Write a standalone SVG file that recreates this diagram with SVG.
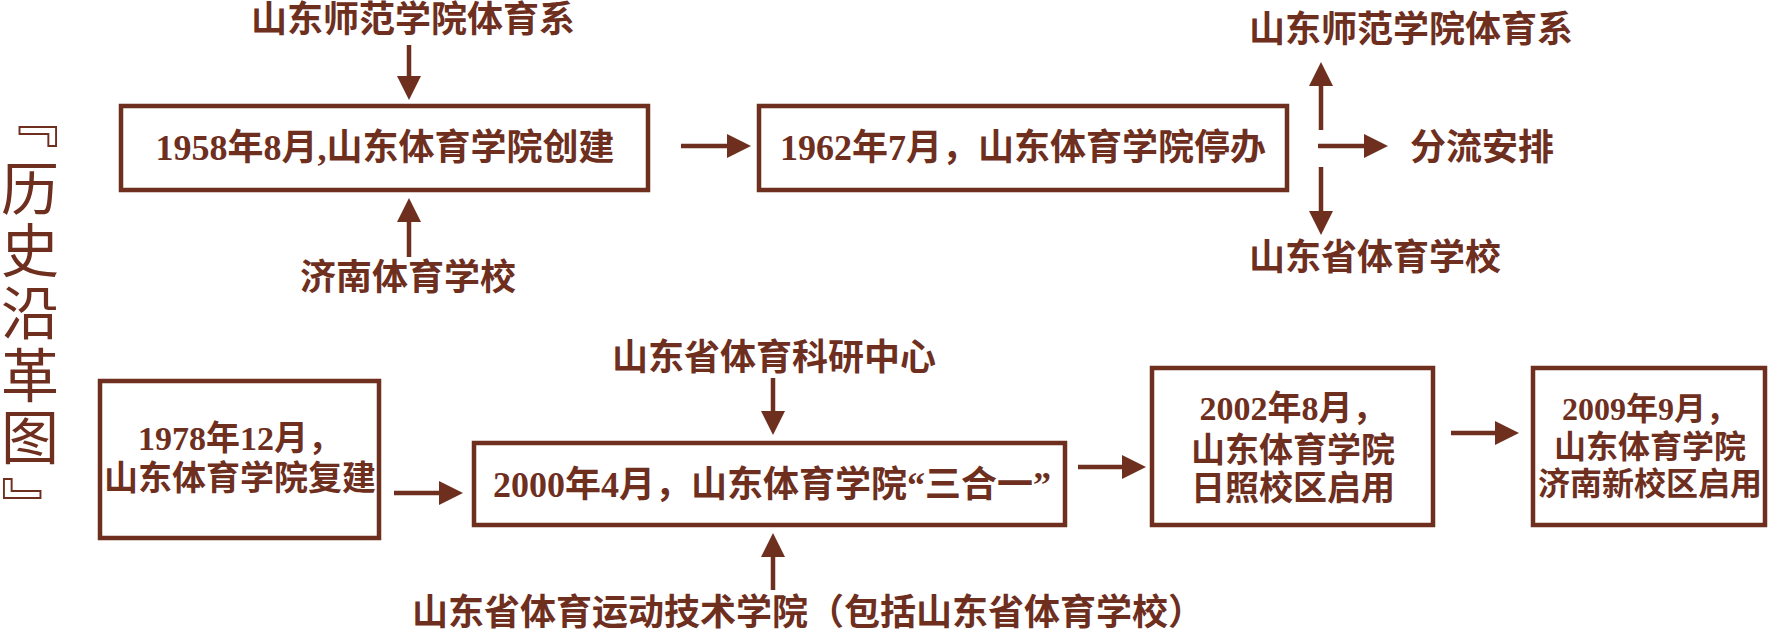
<svg xmlns="http://www.w3.org/2000/svg" width="1770" height="631" viewBox="0 0 1770 631">
<style>
.box{fill:none;stroke:#6E2F1F;stroke-width:4.5}
.t{font-family:"Liberation Serif","Noto Sans CJK SC",serif;font-weight:bold;fill:#6E2F1F}
.c{text-anchor:middle}
.s36{font-size:36px}
.s34{font-size:34px}
.s32{font-size:32px}
.ln{stroke:#6E2F1F;stroke-width:4.5;fill:none;marker-end:url(#ah)}
.title{font-family:"Noto Sans CJK SC","Noto Sans",sans-serif;font-size:58px;fill:#6E2F1F;text-anchor:middle}
</style>
<defs>
<marker id="ah" viewBox="0 0 24 24" markerWidth="24" markerHeight="24" refX="1" refY="12" orient="auto" markerUnits="userSpaceOnUse">
<path d="M0,0 L24,12 L0,24 z" fill="#6E2F1F"/>
</marker>
</defs>
<rect width="1770" height="631" fill="#ffffff"/>
<g id="title">
<text class="title" x="30" y="141">﹃</text>
<text class="title" x="30" y="210">历</text>
<text class="title" x="30" y="272">史</text>
<text class="title" x="30" y="334">沿</text>
<text class="title" x="30" y="397">革</text>
<text class="title" x="30" y="459">图</text>
<text class="title" x="30" y="528">﹄</text>
</g>
<g id="connectors">
<line class="ln" x1="409" y1="45" x2="409" y2="77"/>
<line class="ln" x1="409" y1="257" x2="409" y2="221"/>
<line class="ln" x1="681" y1="146" x2="728" y2="146"/>
<line class="ln" x1="1321" y1="130" x2="1321" y2="85"/>
<line class="ln" x1="1318" y1="146" x2="1365" y2="146"/>
<line class="ln" x1="1321" y1="167" x2="1321" y2="212"/>
<line class="ln" x1="773" y1="378" x2="773" y2="412"/>
<line class="ln" x1="773" y1="590" x2="773" y2="556"/>
<line class="ln" x1="394" y1="493" x2="440" y2="493"/>
<line class="ln" x1="1078" y1="467" x2="1123" y2="467"/>
<line class="ln" x1="1451" y1="433" x2="1496" y2="433"/>
</g>
<g id="node-sdsf-top">
<text class="t s36 c" x="413" y="32">山东师范学院体育系</text>
</g>
<g id="node-1958">
<rect class="box" x="121" y="106" width="527" height="84"/>
<text class="t s36 c" x="385" y="160">1958年8月,山东体育学院创建</text>
</g>
<g id="node-jinan-school">
<text class="t s36 c" x="408" y="290">济南体育学校</text>
</g>
<g id="node-1962">
<rect class="box" x="759" y="106" width="528" height="84"/>
<text class="t s36 c" x="1023" y="160">1962年7月，山东体育学院停办</text>
</g>
<g id="node-sdsf-right">
<text class="t s36" x="1249" y="42">山东师范学院体育系</text>
</g>
<g id="node-fenliu">
<text class="t s36" x="1410" y="160">分流安排</text>
</g>
<g id="node-sdsheng-school">
<text class="t s36" x="1249" y="270">山东省体育学校</text>
</g>
<g id="node-1978">
<rect class="box" x="100" y="381" width="279" height="157"/>
<text class="t s34 c" x="240" y="450">1978年12月，</text>
<text class="t s34 c" x="240" y="490">山东体育学院复建</text>
</g>
<g id="node-keyan">
<text class="t s36 c" x="774" y="370">山东省体育科研中心</text>
</g>
<g id="node-2000">
<rect class="box" x="474" y="443" width="591" height="82"/>
<text class="t s36 c" x="772" y="497">2000年4月，山东体育学院“三合一”</text>
</g>
<g id="node-yundong">
<text class="t s36" x="412" y="625">山东省体育运动技术学院（包括山东省体育学校）</text>
</g>
<g id="node-2002">
<rect class="box" x="1152" y="368" width="281" height="157"/>
<text class="t s34 c" x="1293" y="420">2002年8月，</text>
<text class="t s34 c" x="1293" y="462">山东体育学院</text>
<text class="t s34 c" x="1293" y="500">日照校区启用</text>
</g>
<g id="node-2009">
<rect class="box" x="1533" y="368" width="232" height="157"/>
<text class="t s32 c" x="1650" y="420">2009年9月，</text>
<text class="t s32 c" x="1650" y="458">山东体育学院</text>
<text class="t s32 c" x="1650" y="495">济南新校区启用</text>
</g>
</svg>
